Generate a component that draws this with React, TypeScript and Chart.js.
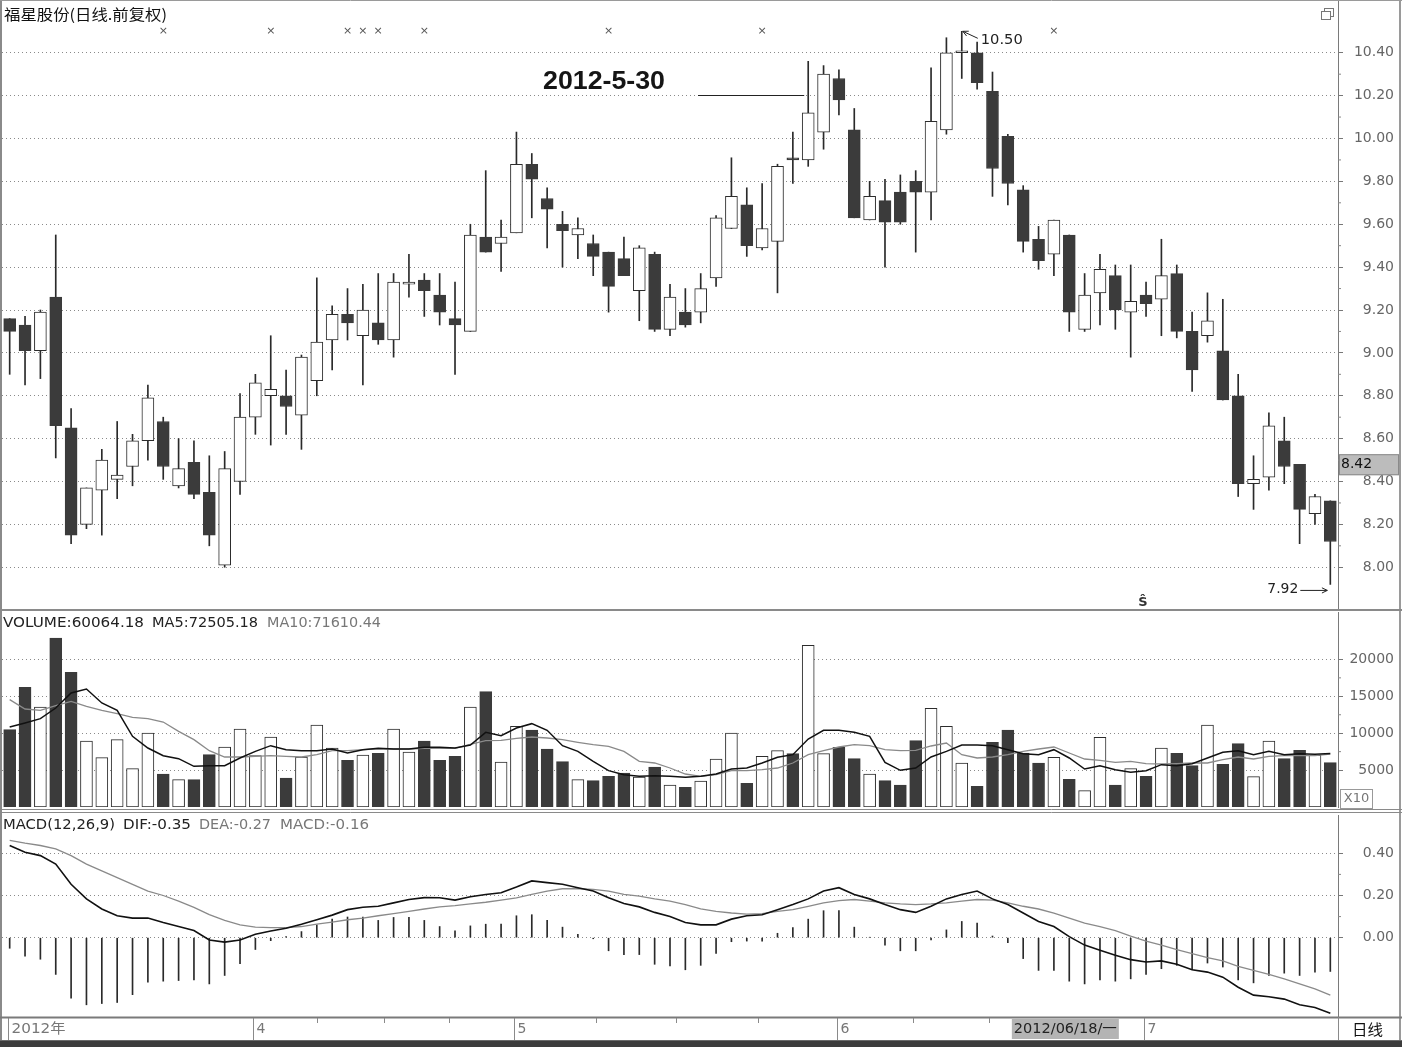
import React, { useEffect, useRef } from 'react';
import { Chart, registerables } from 'chart.js';

Chart.register(...registerables);

const FONT = '"DejaVu Sans", "Noto Sans CJK SC", sans-serif';
const CJK = '"Noto Sans CJK SC", sans-serif';
const ARIAL = '"Liberation Sans", Arial, sans-serif';

// ---------- data ----------
const dates = [
  '2012-03-09', '2012-03-12', '2012-03-13', '2012-03-14', '2012-03-15', '2012-03-16', '2012-03-19', '2012-03-20',
  '2012-03-21', '2012-03-22', '2012-03-23', '2012-03-26', '2012-03-27', '2012-03-28', '2012-03-29', '2012-03-30',
  '2012-04-05', '2012-04-06', '2012-04-09', '2012-04-10', '2012-04-11', '2012-04-12', '2012-04-13', '2012-04-16',
  '2012-04-17', '2012-04-18', '2012-04-19', '2012-04-20', '2012-04-23', '2012-04-24', '2012-04-25', '2012-04-26',
  '2012-04-27', '2012-05-02', '2012-05-03', '2012-05-04', '2012-05-07', '2012-05-08', '2012-05-09', '2012-05-10',
  '2012-05-11', '2012-05-14', '2012-05-15', '2012-05-16', '2012-05-17', '2012-05-18', '2012-05-21', '2012-05-22',
  '2012-05-23', '2012-05-24', '2012-05-25', '2012-05-28', '2012-05-30', '2012-05-31', '2012-06-01', '2012-06-04',
  '2012-06-05', '2012-06-06', '2012-06-07', '2012-06-08', '2012-06-11', '2012-06-12', '2012-06-13', '2012-06-14',
  '2012-06-15', '2012-06-18', '2012-06-19', '2012-06-20', '2012-06-21', '2012-06-25', '2012-06-26', '2012-06-27',
  '2012-06-28', '2012-06-29', '2012-07-02', '2012-07-03', '2012-07-04', '2012-07-05', '2012-07-06', '2012-07-09',
  '2012-07-10', '2012-07-11', '2012-07-12', '2012-07-13', '2012-07-16', '2012-07-17', '2012-07-18',
];

const opens = [
  9.16, 9.13, 9.01, 9.26, 8.65, 8.20, 8.36, 8.41, 8.47, 8.59, 8.68, 8.38, 8.49, 8.35, 8.01, 8.40,
  8.70, 8.80, 8.80, 8.71, 8.87, 9.06, 9.18, 9.08, 9.14, 9.06, 9.32, 9.34, 9.27, 9.16, 9.10, 9.54,
  9.51, 9.56, 9.88, 9.72, 9.60, 9.55, 9.51, 9.47, 9.44, 9.29, 9.46, 9.11, 9.19, 9.19, 9.35, 9.58,
  9.69, 9.49, 9.52, 9.91, 9.90, 10.03, 10.28, 10.04, 9.62, 9.71, 9.75, 9.80, 9.75, 10.04, 10.40, 10.40,
  10.22, 10.01, 9.76, 9.53, 9.46, 9.55, 9.11, 9.28, 9.36, 9.19, 9.27, 9.25, 9.37, 9.10, 9.08, 9.01,
  8.80, 8.39, 8.42, 8.59, 8.48, 8.25, 8.31,
];
const highs = [
  9.16, 9.17, 9.20, 9.55, 8.74, 8.37, 8.55, 8.68, 8.62, 8.85, 8.70, 8.60, 8.59, 8.52, 8.54, 8.81,
  8.90, 9.08, 8.92, 8.99, 9.35, 9.22, 9.30, 9.32, 9.37, 9.37, 9.46, 9.37, 9.37, 9.33, 9.60, 9.85,
  9.62, 10.03, 9.93, 9.77, 9.66, 9.63, 9.55, 9.47, 9.54, 9.50, 9.47, 9.32, 9.30, 9.37, 9.64, 9.91,
  9.77, 9.79, 9.88, 10.03, 10.36, 10.34, 10.32, 10.14, 9.80, 9.81, 9.83, 9.85, 10.33, 10.47, 10.50, 10.45,
  10.31, 10.02, 9.78, 9.59, 9.62, 9.55, 9.37, 9.46, 9.41, 9.41, 9.33, 9.53, 9.41, 9.19, 9.28, 9.25,
  8.90, 8.52, 8.72, 8.70, 8.48, 8.34, 8.31,
];
const lows = [
  8.90, 8.85, 8.88, 8.51, 8.11, 8.18, 8.15, 8.32, 8.38, 8.50, 8.41, 8.37, 8.32, 8.10, 8.00, 8.34,
  8.62, 8.57, 8.62, 8.55, 8.80, 8.92, 9.06, 8.85, 9.04, 8.98, 9.26, 9.17, 9.13, 8.90, 9.10, 9.47,
  9.38, 9.56, 9.63, 9.49, 9.40, 9.44, 9.36, 9.19, 9.36, 9.15, 9.10, 9.08, 9.12, 9.14, 9.31, 9.58,
  9.45, 9.48, 9.28, 9.79, 9.87, 9.95, 10.11, 9.63, 9.62, 9.40, 9.60, 9.47, 9.62, 10.02, 10.28, 10.23,
  9.73, 9.69, 9.47, 9.39, 9.36, 9.10, 9.10, 9.13, 9.11, 8.98, 9.17, 9.08, 9.07, 8.82, 9.05, 8.78,
  8.33, 8.27, 8.36, 8.39, 8.11, 8.20, 7.92,
];
const closes = [
  9.10, 9.01, 9.19, 8.66, 8.15, 8.37, 8.50, 8.43, 8.59, 8.79, 8.47, 8.46, 8.34, 8.15, 8.46, 8.70,
  8.86, 8.83, 8.75, 8.98, 9.05, 9.18, 9.14, 9.20, 9.06, 9.33, 9.33, 9.29, 9.19, 9.13, 9.55, 9.47,
  9.54, 9.88, 9.81, 9.67, 9.57, 9.58, 9.45, 9.31, 9.36, 9.49, 9.11, 9.26, 9.13, 9.30, 9.63, 9.73,
  9.50, 9.58, 9.87, 9.90, 10.12, 10.30, 10.18, 9.63, 9.73, 9.61, 9.61, 9.75, 10.08, 10.40, 10.40, 10.26,
  9.86, 9.79, 9.52, 9.43, 9.62, 9.19, 9.27, 9.39, 9.20, 9.24, 9.23, 9.36, 9.10, 8.92, 9.15, 8.78,
  8.39, 8.41, 8.66, 8.47, 8.27, 8.33, 8.12,
];

// volume in units of x10
const volumes = [
  10480, 16216, 13551, 22888, 18249, 8944, 6685, 9124, 5195, 10028, 4472, 3704, 3704, 7092, 8131, 10570,
  6956, 9486, 3930, 6776, 11112, 7995, 6324, 7047, 7272, 10570, 7453, 8944, 6324, 6866, 13551, 15629,
  6098, 10931, 10434, 7860, 6143, 3704, 3568, 4156, 4607, 4065, 5420, 2981, 2665, 3523, 6504, 10028,
  3207, 6866, 7634, 7227, 21907, 7227, 8085, 6550, 4472, 3568, 2981, 8989, 13370, 10931, 5962, 2800,
  8763, 10434, 7318, 5962, 6730, 3749, 2213, 9441, 2981, 5195, 4156, 7995, 7272, 5601, 11112, 5782,
  8582, 4110, 8944, 6550, 7679, 7001, 6006,
];
const volMa5 = [
  10841, 11383, 11970, 13415, 15448, 15990, 14093, 13099, 9576, 7995, 6956, 6550, 5511, 5601, 5601, 6640,
  7543, 8311, 7769, 7634, 7634, 7860, 7318, 7769, 7950, 7860, 7860, 8085, 8085, 7995, 8400, 10118,
  9666, 10705, 11293, 10389, 8311, 7543, 6188, 4924, 4381, 4156, 4246, 4156, 4020, 4156, 4472, 5149,
  5285, 5962, 6730, 7092, 9215, 10389, 10389, 10118, 9576, 6053, 4969, 5285, 6776, 7543, 8402, 8402,
  8311, 7769, 7227, 7092, 7769, 6640, 5149, 5601, 5059, 4698, 4924, 5737, 5601, 5872, 6640, 7408,
  7634, 7092, 7543, 7092, 7227, 7137, 7251,
];
const volMa10 = [
  14545, 13280, 13099, 13732, 14319, 13641, 13099, 12648, 12151, 11970, 11518, 10253, 9124, 7634, 6776, 6776,
  6866, 6956, 6866, 6776, 7092, 7634, 7634, 7769, 7860, 7860, 7860, 7950, 7950, 7950, 8500, 8989,
  9034, 9305, 9486, 9350, 9124, 8763, 8447, 8221, 7543, 6188, 5962, 5285, 4472, 4156, 4381, 4924,
  4924, 5059, 5285, 5962, 7092, 7634, 8131, 8447, 8311, 7769, 7634, 7679, 8266, 8673, 7092, 6640,
  6776, 7092, 7543, 7860, 8131, 7318, 6504, 6324, 6053, 6188, 5872, 5827, 5872, 5962, 5962, 6414,
  6776, 6504, 6866, 6956, 7001, 6956, 7161,
];

const difs = [
  0.437, 0.405, 0.389, 0.349, 0.253, 0.184, 0.136, 0.104, 0.093, 0.093, 0.072, 0.053, 0.034, -0.011, -0.021, -0.011,
  0.016, 0.032, 0.045, 0.064, 0.085, 0.107, 0.133, 0.144, 0.149, 0.165, 0.181, 0.190, 0.189, 0.178, 0.194, 0.205,
  0.213, 0.240, 0.269, 0.261, 0.253, 0.237, 0.221, 0.189, 0.162, 0.146, 0.120, 0.101, 0.072, 0.061, 0.061, 0.088,
  0.104, 0.109, 0.133, 0.157, 0.184, 0.221, 0.237, 0.205, 0.184, 0.157, 0.133, 0.120, 0.149, 0.184, 0.205, 0.221,
  0.184, 0.157, 0.117, 0.077, 0.053, 0.005, -0.035, -0.059, -0.083, -0.104, -0.115, -0.110, -0.126, -0.152, -0.163, -0.187,
  -0.235, -0.272, -0.280, -0.291, -0.318, -0.331, -0.358,
];
const deas = [
  0.461, 0.448, 0.437, 0.421, 0.389, 0.349, 0.317, 0.285, 0.253, 0.221, 0.200, 0.173, 0.144, 0.109, 0.082, 0.061,
  0.050, 0.048, 0.048, 0.053, 0.064, 0.074, 0.085, 0.093, 0.104, 0.114, 0.125, 0.136, 0.146, 0.152, 0.160, 0.168,
  0.178, 0.189, 0.205, 0.221, 0.232, 0.232, 0.229, 0.221, 0.205, 0.197, 0.184, 0.173, 0.157, 0.137, 0.125, 0.117,
  0.112, 0.114, 0.125, 0.133, 0.149, 0.165, 0.176, 0.181, 0.173, 0.165, 0.160, 0.157, 0.160, 0.165, 0.173, 0.181,
  0.178, 0.165, 0.149, 0.136, 0.117, 0.093, 0.069, 0.053, 0.034, 0.008, -0.016, -0.035, -0.056, -0.075, -0.094, -0.110,
  -0.136, -0.155, -0.174, -0.195, -0.219, -0.243, -0.272,
];
const macdBars = [
  -0.050, -0.088, -0.102, -0.174, -0.286, -0.318, -0.312, -0.307, -0.270, -0.211, -0.206, -0.203, -0.200, -0.219, -0.179, -0.123,
  -0.056, -0.014, 0.005, 0.029, 0.061, 0.088, 0.098, 0.098, 0.082, 0.096, 0.096, 0.082, 0.053, 0.032, 0.056, 0.064,
  0.064, 0.104, 0.109, 0.082, 0.050, 0.016, -0.005, -0.062, -0.080, -0.080, -0.126, -0.134, -0.152, -0.131, -0.075, -0.019,
  -0.016, -0.016, 0.021, 0.048, 0.088, 0.128, 0.128, 0.050, 0.002, -0.035, -0.062, -0.062, -0.011, 0.037, 0.077, 0.069,
  0.008, -0.024, -0.099, -0.155, -0.155, -0.206, -0.219, -0.200, -0.206, -0.195, -0.174, -0.147, -0.131, -0.152, -0.120, -0.139,
  -0.200, -0.214, -0.179, -0.168, -0.179, -0.163, -0.160,
];

const priceTicks = [8.0, 8.2, 8.4, 8.6, 8.8, 9.0, 9.2, 9.4, 9.6, 9.8, 10.0, 10.2, 10.4];
const volumeTicks = [5000, 10000, 15000, 20000];
const macdTicks = [0, 0.2, 0.4];
const monthIdx = [0, 16, 33, 54, 74];
const monthLabels = ['2012年', '4', '5', '6', '7'];
const weekTickIdx = [20, 24.4, 28.6, 38.2, 43.4, 48.7, 58.8, 63.8];
const infoMarkIdx = [10, 17, 22, 23, 24, 27, 39, 49, 68];

// ---------- layout ----------
const W = 1402;
const AXIS_W = 56;
const PAD_R = 8;
const PAD_L = 2;

type TextOpts = { size?: number; color?: string; align?: 'left' | 'right' | 'center'; width?: number; font?: string; weight?: string };

function drawText(ctx: CanvasRenderingContext2D, s: string, x: number, y: number, o: TextOpts = {}) {
  const size = o.size ?? 14;
  ctx.save();
  ctx.font = `${o.weight ?? 'normal'} ${size}px ${o.font ?? FONT}`;
  ctx.fillStyle = o.color ?? '#000';
  ctx.textBaseline = 'middle';
  ctx.textAlign = 'left';
  const w = ctx.measureText(s).width || 1;
  const tw = o.width ?? w;
  let x0 = x;
  if (o.align === 'right') x0 = x - tw;
  else if (o.align === 'center') x0 = x - tw / 2;
  ctx.translate(x0, y);
  ctx.scale(tw / w, 1);
  ctx.fillText(s, 0, 0);
  ctx.restore();
}

function seg(ctx: CanvasRenderingContext2D, x1: number, y1: number, x2: number, y2: number, color = '#888', w = 1) {
  ctx.save();
  ctx.strokeStyle = color;
  ctx.lineWidth = w;
  ctx.beginPath();
  ctx.moveTo(x1, y1);
  ctx.lineTo(x2, y2);
  ctx.stroke();
  ctx.restore();
}

function arrowHead(ctx: CanvasRenderingContext2D, x: number, y: number, fromX: number, fromY: number, color = '#222') {
  const a = Math.atan2(y - fromY, x - fromX);
  const L = 6;
  ctx.save();
  ctx.strokeStyle = color;
  ctx.lineWidth = 1;
  ctx.beginPath();
  ctx.moveTo(x - L * Math.cos(a - 0.45), y - L * Math.sin(a - 0.45));
  ctx.lineTo(x, y);
  ctx.lineTo(x - L * Math.cos(a + 0.45), y - L * Math.sin(a + 0.45));
  ctx.stroke();
  ctx.restore();
}

function yAxis(min: number, max: number, tickValues: number[]) {
  return {
    type: 'linear',
    position: 'right',
    min,
    max,
    afterBuildTicks: (s: any) => {
      s.ticks = tickValues.map((v) => ({ value: v }));
    },
    afterFit: (s: any) => {
      s.width = AXIS_W;
    },
    ticks: { display: false },
    grid: { color: '#8a8a8a', lineWidth: 1, drawTicks: true, tickLength: 5, tickColor: '#777', tickWidth: 1 },
    border: { display: true, color: '#7a7a7a', width: 1, dash: [1, 3] },
  };
}

function baseOptions(yMin: number, yMax: number, ticks: number[], padding: any) {
  return {
    responsive: false,
    maintainAspectRatio: false,
    animation: false,
    events: [],
    layout: { padding },
    plugins: { legend: { display: false }, tooltip: { enabled: false } },
    scales: {
      x: { type: 'category', display: false, offset: true, grid: { display: false } },
      y: yAxis(yMin, yMax, ticks),
    },
  };
}

function axisLabels(ctx: CanvasRenderingContext2D, y: any, right: number, values: number[], fmt: (v: number) => string) {
  values.forEach((v) => drawText(ctx, fmt(v), W - PAD_R, y.getPixelForValue(v), { size: 14, color: '#666', align: 'right' }));
  for (let i = 0; i < values.length - 1; i++) {
    const py = y.getPixelForValue((values[i] + values[i + 1]) / 2);
    seg(ctx, right, py, right + 3, py, '#888');
  }
}

const isUp = (i: number) => closes[i] >= opens[i];
const DARK = '#3b3b3b';
const EDGE = '#2c2c2c';

// ---------- panels ----------
function MainPanel() {
  const ref = useRef<HTMLCanvasElement>(null);
  useEffect(() => {
    const decor = {
      id: 'mainDecor',
      afterDraw(chart: any) {
        const ctx: CanvasRenderingContext2D = chart.ctx;
        const x = chart.scales.x;
        const y = chart.scales.y;
        const ca = chart.chartArea;
        axisLabels(ctx, y, ca.right, priceTicks, (v) => v.toFixed(2));
        // frame
        seg(ctx, 1, 0, 1, 611, '#8a8a8a', 2);
        seg(ctx, 1400, 0, 1400, 611, '#9a9a9a', 2);
        seg(ctx, 0, 0.5, W, 0.5, '#9a9a9a', 1);
        seg(ctx, 0, 610, W, 610, '#8a8a8a', 2);
        // title
        drawText(ctx, '福星股份(日线.前复权)', 4, 14, { font: CJK, size: 15, width: 163, color: '#111' });
        // window icon
        ctx.save();
        ctx.strokeStyle = '#777';
        ctx.fillStyle = '#fff';
        ctx.strokeRect(1324.5, 8.5, 9, 8);
        ctx.fillRect(1321.5, 11.5, 9, 8);
        ctx.strokeRect(1321.5, 11.5, 9, 8);
        ctx.restore();
        // info marks
        infoMarkIdx.forEach((i) => drawText(ctx, '×', x.getPixelForValue(i), 31, { size: 11, color: '#555', align: 'center' }));
        // annotation 2012-5-30
        drawText(ctx, '2012-5-30', 543, 82, { size: 26, weight: 'bold', font: ARIAL, width: 122, color: '#151515' });
        const ly = Math.round(y.getPixelForValue(10.2)) - 0.5;
        seg(ctx, 698, ly, x.getPixelForValue(52) - 4, ly, '#222', 1);
        // high 10.50
        const hx = x.getPixelForValue(62);
        const hy = y.getPixelForValue(10.5);
        seg(ctx, hx + 16, hy + 7, hx + 1, hy, '#222', 1);
        arrowHead(ctx, hx + 1, hy, hx + 16, hy + 7);
        drawText(ctx, '10.50', hx + 19, hy + 9, { size: 14, color: '#222', width: 42 });
        // low 7.92
        const lx = x.getPixelForValue(86);
        const lyy = y.getPixelForValue(7.92) + 5;
        drawText(ctx, '7.92', lx - 32, lyy, { size: 14, color: '#222', align: 'right', width: 31 });
        seg(ctx, lx - 30, lyy + 1, lx - 3, lyy + 1, '#222', 1);
        arrowHead(ctx, lx - 3, lyy + 1, lx - 30, lyy + 1);
        // S mark
        drawText(ctx, 'Ŝ', x.getPixelForValue(74) - 3, 603, { size: 13, weight: 'bold', color: '#333', align: 'center' });
        // current price box
        const by = y.getPixelForValue(8.42);
        ctx.save();
        ctx.fillStyle = '#bcbcbc';
        ctx.fillRect(ca.right + 1, by - 23, 60, 21);
        ctx.strokeStyle = '#8a8a8a';
        ctx.strokeRect(ca.right + 1.5, by - 22.5, 59, 20);
        ctx.restore();
        drawText(ctx, '8.42', ca.right + 3, by - 12.5, { size: 14, color: '#111' });
      },
    };
    const chart = new Chart(ref.current as HTMLCanvasElement, {
      type: 'bar',
      data: {
        labels: dates,
        datasets: [
          {
            type: 'bar',
            data: lows.map((l, i) => [l, highs[i]]),
            backgroundColor: '#2a2a2a',
            borderWidth: 0,
            barThickness: 1,
            grouped: false,
            order: 2,
          },
          {
            type: 'bar',
            data: opens.map((o, i) => [Math.min(o, closes[i]), Math.max(o, closes[i])]),
            backgroundColor: opens.map((_, i) => (isUp(i) ? '#ffffff' : DARK)),
            borderColor: opens.map((_, i) => (isUp(i) ? EDGE : DARK)),
            borderWidth: 1,
            borderSkipped: false,
            barThickness: 12,
            minBarLength: 2,
            grouped: false,
            order: 1,
          },
        ],
      } as any,
      options: baseOptions(7.796, 10.646, priceTicks, { left: PAD_L, right: PAD_R, top: 0, bottom: 0 }) as any,
      plugins: [decor],
    });
    return () => chart.destroy();
  }, []);
  return <canvas ref={ref} width={W} height={611} style={{ position: 'absolute', left: 0, top: 0 }} />;
}

function VolumePanel() {
  const ref = useRef<HTMLCanvasElement>(null);
  useEffect(() => {
    const decor = {
      id: 'volDecor',
      afterDraw(chart: any) {
        const ctx: CanvasRenderingContext2D = chart.ctx;
        const y = chart.scales.y;
        const ca = chart.chartArea;
        axisLabels(ctx, y, ca.right, volumeTicks, (v) => String(v));
        seg(ctx, 1, 0, 1, 202, '#8a8a8a', 2);
        seg(ctx, 1400, 0, 1400, 202, '#9a9a9a', 2);
        seg(ctx, 0, 198.5, W, 198.5, '#8a8a8a', 1);
        seg(ctx, 0, 201.5, W, 201.5, '#8a8a8a', 1);
        drawText(ctx, 'VOLUME:60064.18', 3, 12, { size: 14, width: 141, color: '#222' });
        drawText(ctx, 'MA5:72505.18', 152, 12, { size: 14, width: 106, color: '#222' });
        drawText(ctx, 'MA10:71610.44', 267, 12, { size: 14, width: 114, color: '#777' });
        ctx.save();
        ctx.strokeStyle = '#999';
        ctx.strokeRect(ca.right + 2.5, 178.5, 32, 19);
        ctx.restore();
        drawText(ctx, 'X10', ca.right + 18.5, 188, { size: 13, color: '#777', align: 'center' });
      },
    };
    const chart = new Chart(ref.current as HTMLCanvasElement, {
      type: 'bar',
      data: {
        labels: dates,
        datasets: [
          {
            type: 'line',
            data: volMa5,
            borderColor: '#111',
            borderWidth: 1.5,
            pointRadius: 0,
            tension: 0,
            order: 0,
          },
          {
            type: 'line',
            data: volMa10,
            borderColor: '#8a8a8a',
            borderWidth: 1.3,
            pointRadius: 0,
            tension: 0,
            order: 0,
          },
          {
            type: 'bar',
            data: volumes,
            backgroundColor: volumes.map((_, i) => (isUp(i) ? '#ffffff' : DARK)),
            borderColor: volumes.map((_, i) => (isUp(i) ? EDGE : DARK)),
            borderWidth: 1,
            borderSkipped: false,
            barThickness: 12,
            order: 1,
          },
        ],
      } as any,
      options: baseOptions(0, 26423, volumeTicks, { left: PAD_L, right: PAD_R, top: 1, bottom: 6 }) as any,
      plugins: [decor],
    });
    return () => chart.destroy();
  }, []);
  return <canvas ref={ref} width={W} height={202} style={{ position: 'absolute', left: 0, top: 611 }} />;
}

function MacdPanel() {
  const ref = useRef<HTMLCanvasElement>(null);
  useEffect(() => {
    const decor = {
      id: 'macdDecor',
      afterDraw(chart: any) {
        const ctx: CanvasRenderingContext2D = chart.ctx;
        const x = chart.scales.x;
        const y = chart.scales.y;
        const ca = chart.chartArea;
        axisLabels(ctx, y, ca.right, macdTicks, (v) => v.toFixed(2));
        seg(ctx, 1, 0, 1, 227, '#8a8a8a', 2);
        seg(ctx, 1400, 0, 1400, 227, '#9a9a9a', 2);
        drawText(ctx, 'MACD(12,26,9)', 3, 12, { size: 14, width: 112, color: '#222' });
        drawText(ctx, 'DIF:-0.35', 123, 12, { size: 14, width: 68, color: '#222' });
        drawText(ctx, 'DEA:-0.27', 199, 12, { size: 14, width: 72, color: '#777' });
        drawText(ctx, 'MACD:-0.16', 280, 12, { size: 14, width: 89, color: '#777' });
        // bottom strip
        const top = ca.bottom;
        seg(ctx, 0, top + 0.5, W, top + 0.5, '#7a7a7a', 2);
        seg(ctx, ca.right + 0.5, top, ca.right + 0.5, top + 23, '#8a8a8a', 1);
        monthIdx.forEach((idx, k) => {
          const px = Math.round(x.getPixelForValue(idx) - 2) + 0.5;
          seg(ctx, px, top + 1, px, top + 23, '#8a8a8a', 1);
          const isCn = k === 0;
          drawText(ctx, monthLabels[k], px + 3, top + 12, { size: 14, color: '#777', width: isCn ? 54 : undefined });
        });
        weekTickIdx.forEach((idx) => {
          const px = Math.round(x.getPixelForValue(idx)) + 0.5;
          seg(ctx, px, top + 1, px, top + 6, '#8a8a8a', 1);
        });
        // highlighted date box
        const dx = x.getPixelForValue(65) + 4;
        ctx.save();
        ctx.fillStyle = '#b4b4b4';
        ctx.fillRect(dx, top + 2, 107, 20);
        ctx.restore();
        drawText(ctx, '2012/06/18/一', dx + 2, top + 12, { size: 14, color: '#222', width: 103 });
        drawText(ctx, '日线', ca.right + 14, top + 12, { size: 15, font: CJK, color: '#111', width: 31 });
        // bottom band
        ctx.save();
        ctx.fillStyle = '#3c3c3c';
        ctx.fillRect(0, top + 23, W, 12);
        ctx.fillStyle = '#6a6a6a';
        ctx.fillRect(0, top + 23, W, 1);
        ctx.restore();
      },
    };
    const chart = new Chart(ref.current as HTMLCanvasElement, {
      type: 'bar',
      data: {
        labels: dates,
        datasets: [
          {
            type: 'line',
            data: difs,
            borderColor: '#111',
            borderWidth: 1.6,
            pointRadius: 0,
            tension: 0,
            order: 0,
          },
          {
            type: 'line',
            data: deas,
            borderColor: '#8a8a8a',
            borderWidth: 1.3,
            pointRadius: 0,
            tension: 0,
            order: 0,
          },
          {
            type: 'bar',
            data: macdBars,
            backgroundColor: '#2a2a2a',
            borderWidth: 0,
            barThickness: 1,
            order: 1,
          },
        ],
      } as any,
      options: baseOptions(-0.3758, 0.5815, macdTicks, { left: PAD_L, right: PAD_R, top: 2, bottom: 30 }) as any,
      plugins: [decor],
    });
    return () => chart.destroy();
  }, []);
  return <canvas ref={ref} width={W} height={234} style={{ position: 'absolute', left: 0, top: 813 }} />;
}

export default function App() {
  useEffect(() => {
    document.body.style.margin = '0';
    document.body.style.background = '#fff';
  }, []);
  return (
    <div style={{ position: 'absolute', left: 0, top: 0, width: W, height: 1047, background: '#fff', overflow: 'hidden' }}>
      <MainPanel />
      <VolumePanel />
      <MacdPanel />
    </div>
  );
}
